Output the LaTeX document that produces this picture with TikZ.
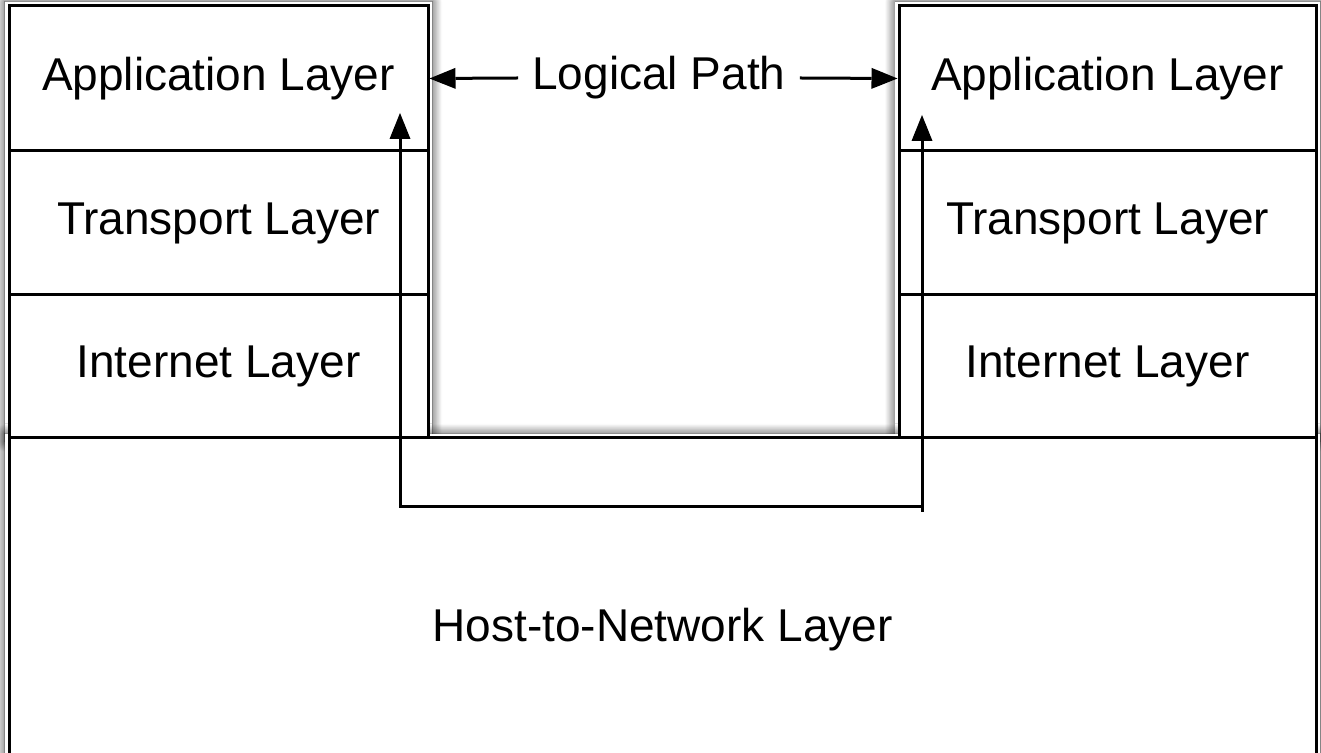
\documentclass[tikz,border=0pt]{standalone}
\usepackage{fontspec}
\setmainfont{Liberation Sans}
\usetikzlibrary{arrows.meta,shadows.blur}
\begin{document}
\begin{tikzpicture}[x=1pt,y=1pt,
  layerbox/.style={draw=black, line width=3pt, fill=white, rectangle, inner sep=0pt,
    font=\fontsize{46}{55}\selectfont},
  softshadow/.style={blur shadow={shadow xshift=0pt, shadow yshift=0pt,
    shadow blur radius=10pt, shadow blur steps=12, shadow opacity=80}},
  flow/.style={draw=black, line width=3pt,
    -{Triangle[length=26pt, width=21pt, fill=black, line width=0pt]}},
  pathtext/.style={font=\fontsize{46}{55}\selectfont, inner xsep=14pt, inner ysep=0pt}]
\path[use as bounding box] (0,0) rectangle (1321,752);

% soft shadows behind the two stacks and the shared bottom layer
\begin{scope}
\fill[white, softshadow] (5,750) rectangle (432,310);
\fill[white, softshadow] (895,750) rectangle (1320,310);
\fill[white, softshadow] (5,318) rectangle (1320,-70);
\end{scope}

% bottom layer shared by both hosts
\node[layerbox, minimum width=1307pt, minimum height=384pt] (host) at (662.5,122) {Host-to-Network Layer};

% left protocol stack
\node[layerbox, minimum width=419pt, minimum height=145pt] (lapp)   at (218.5,673.5) {Application Layer};
\node[layerbox, minimum width=419pt, minimum height=144pt] (ltrans) at (218.5,529)   {Transport Layer};
\node[layerbox, minimum width=419pt, minimum height=143pt] (linet)  at (218.5,385.5) {Internet Layer};

% right protocol stack
\node[layerbox, minimum width=417pt, minimum height=145pt] (rapp)   at (1107.5,673.5) {Application Layer};
\node[layerbox, minimum width=417pt, minimum height=144pt] (rtrans) at (1107.5,529)   {Transport Layer};
\node[layerbox, minimum width=417pt, minimum height=143pt] (rinet)  at (1107.5,385.5) {Internet Layer};

% logical path between the application layers
\node[pathtext] (logic) at (659,674) {Logical Path};
\draw[flow] (logic.west) -- (lapp.east);
\draw[flow] (logic.east) -- (rapp.west);

% physical path down through the stacks and across the bottom layer
\coordinate (turnL) at (400,245);
\coordinate (turnR) at (922,245);
\coordinate (baseR) at (922,240);
\coordinate (tipL)  at (400,639);
\coordinate (tipR)  at (922,637);
\draw[flow] (turnR) -- (turnL) -- (tipL);
\draw[flow] (baseR) -- (tipR);
\end{tikzpicture}
\end{document}
